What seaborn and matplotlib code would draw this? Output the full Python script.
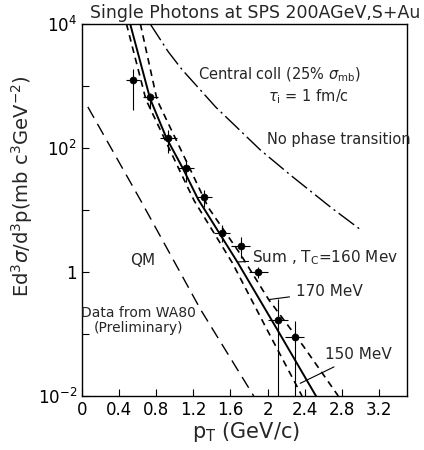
import numpy as np
import matplotlib
matplotlib.use("Agg")
import matplotlib.pyplot as plt
import seaborn as sns


# measured photons (WA80, preliminary)
data_pt = [0.55, 0.735, 0.93, 1.12, 1.32, 1.51, 1.71, 1.90, 2.11, 2.29]
data_val = [1250, 650, 145, 48, 16, 4.3, 2.6, 1.0, 0.17, 0.09]
data_lo = [410, 430, 83, 28, 11, 3.0, 1.7, 0.8, 0.005, 0.005]
data_hi = [1870, 770, 195, 65, 21, 5.8, 3.6, 1.2, 0.36, 0.16]
data_xerr = [0.08, 0.08, 0.09, 0.09, 0.08, 0.09, 0.1, 0.1, 0.11, 0.1]

# Sum, Tc = 160 MeV
sum_pt = [0.52, 0.735, 0.91, 1.09, 1.25, 1.68, 2.10, 2.52]
sum_val = [10000, 620, 145, 46, 15, 1.4, 0.12, 0.01]

# Tc = 150 MeV
t150_pt = [0.48, 0.69, 1.05, 1.21, 1.62, 1.99, 2.37]
t150_val = [10000, 600, 44, 14, 1.4, 0.12, 0.01]

# Tc = 170 MeV
t170_pt = [0.63, 0.81, 1.17, 1.36, 1.71, 2.01, 2.38, 2.76]
t170_val = [10000, 590, 44, 11, 1.9, 0.36, 0.065, 0.01]

# no phase transition
nopt_pt = [0.735, 0.93, 1.08, 1.44, 1.92, 2.25, 2.68, 3.0]
nopt_val = [10000, 3550, 1820, 457, 93, 36, 11, 4.8]

# QM
qm_pt = [0.065, 0.63, 1.28, 1.85]
qm_val = [457, 14.5, 0.245, 0.01]

x_ticks = [0, 0.4, 0.8, 1.2, 1.6, 2.0, 2.4, 2.8, 3.2]
x_labels = ["0", "0.4", "0.8", "1.2", "1.6", "2", "2.4", "2.8", "3.2"]
y_ticks = [1e-2, 1e-1, 1e0, 1e1, 1e2, 1e3, 1e4]
y_labels = ["$10^{-2}$", "", "1", "", "$10^{2}$", "", "$10^{4}$"]


def main():
	sns.set_style("ticks")
	plt.rcParams["font.family"] = ["DejaVu Sans"]
	fig = plt.figure(figsize=(4.24, 4.5), dpi=100)
	ax = fig.add_axes([0.193, 0.12, 0.767, 0.827])

	sns.lineplot(x=sum_pt, y=sum_val, ax=ax, color="black", lw=1.4,
		sort=False, estimator=None)
	sns.lineplot(x=t150_pt, y=t150_val, ax=ax, color="black", lw=1.2,
		linestyle=(0, (4, 3)), sort=False, estimator=None)
	sns.lineplot(x=t170_pt, y=t170_val, ax=ax, color="black", lw=1.2,
		linestyle=(0, (4, 3)), sort=False, estimator=None)
	sns.lineplot(x=nopt_pt, y=nopt_val, ax=ax, color="black", lw=1.0,
		linestyle=(0, (14, 3, 1.5, 3)), sort=False, estimator=None)
	sns.lineplot(x=qm_pt, y=qm_val, ax=ax, color="black", lw=1.0,
		linestyle=(0, (9, 5)), sort=False, estimator=None)

	yerr = [np.array(data_val) - np.array(data_lo),
		np.array(data_hi) - np.array(data_val)]
	ax.errorbar(data_pt, data_val, yerr=yerr, xerr=data_xerr, fmt="none",
		ecolor="black", elinewidth=0.8, capsize=0)
	sns.scatterplot(x=data_pt, y=data_val, ax=ax, color="black", s=26,
		edgecolor="black", zorder=5)

	ax.set_yscale("log")
	ax.set_xlim(0, 3.5)
	ax.set_ylim(1e-2, 1e4)
	ax.set_xticks(x_ticks)
	ax.set_xticklabels(x_labels)
	ax.set_yticks(y_ticks)
	ax.set_yticklabels(y_labels)
	ax.minorticks_off()
	ax.tick_params(direction="in", length=5, width=0.8, labelsize=12,
		colors="black", top=False, right=False)
	for s in ax.spines.values():
		s.set_color("black")
		s.set_linewidth(1.0)

	fig.text(0.602, 0.972, "Single Photons at SPS 200AGeV,S+Au",
		ha="center", va="center", fontsize=12.5)
	fig.text(0.58, 0.04, "p$_{\\mathrm{T}}$ (GeV/c)",
		ha="center", va="center", fontsize=15)
	fig.text(0.052, 0.587,
		"Ed$^3\\sigma$/d$^3$p(mb c$^3$GeV$^{-2}$)",
		ha="center", va="center", rotation=90, fontsize=14)

	ax.text(1.25, 1500, "Central coll (25% $\\sigma_{\\mathrm{mb}}$)",
		fontsize=10.5, va="center")
	ax.text(2.0, 660, "$\\tau_{\\mathrm{i}}$ = 1 fm/c",
		fontsize=10.5, va="center")
	ax.text(1.99, 135, "No phase transition", fontsize=10.5, va="center")
	ax.text(0.65, 1.55, "QM", fontsize=11, ha="center", va="center")
	ax.text(0.61, 0.22, "Data from WA80", fontsize=10, ha="center", va="center")
	ax.text(0.61, 0.125, "(Preliminary)", fontsize=10, ha="center", va="center")

	ax.annotate("Sum , T$_{\\mathrm{C}}$=160 Mev", xy=(1.68, 1.45),
		xytext=(1.83, 1.7), fontsize=11, va="center",
		arrowprops=dict(arrowstyle="-", color="black", lw=0.8,
			shrinkA=0, shrinkB=0))
	ax.annotate("170 MeV", xy=(2.02, 0.36), xytext=(2.3, 0.48),
		fontsize=11, va="center",
		arrowprops=dict(arrowstyle="-", color="black", lw=0.8,
			shrinkA=2, shrinkB=0))
	ax.annotate("150 MeV", xy=(2.35, 0.016), xytext=(2.62, 0.046),
		fontsize=11, va="center",
		arrowprops=dict(arrowstyle="-", color="black", lw=0.8,
			shrinkA=2, shrinkB=0))

	fig.savefig("out.png", dpi=100)


if __name__ == "__main__":
	main()
